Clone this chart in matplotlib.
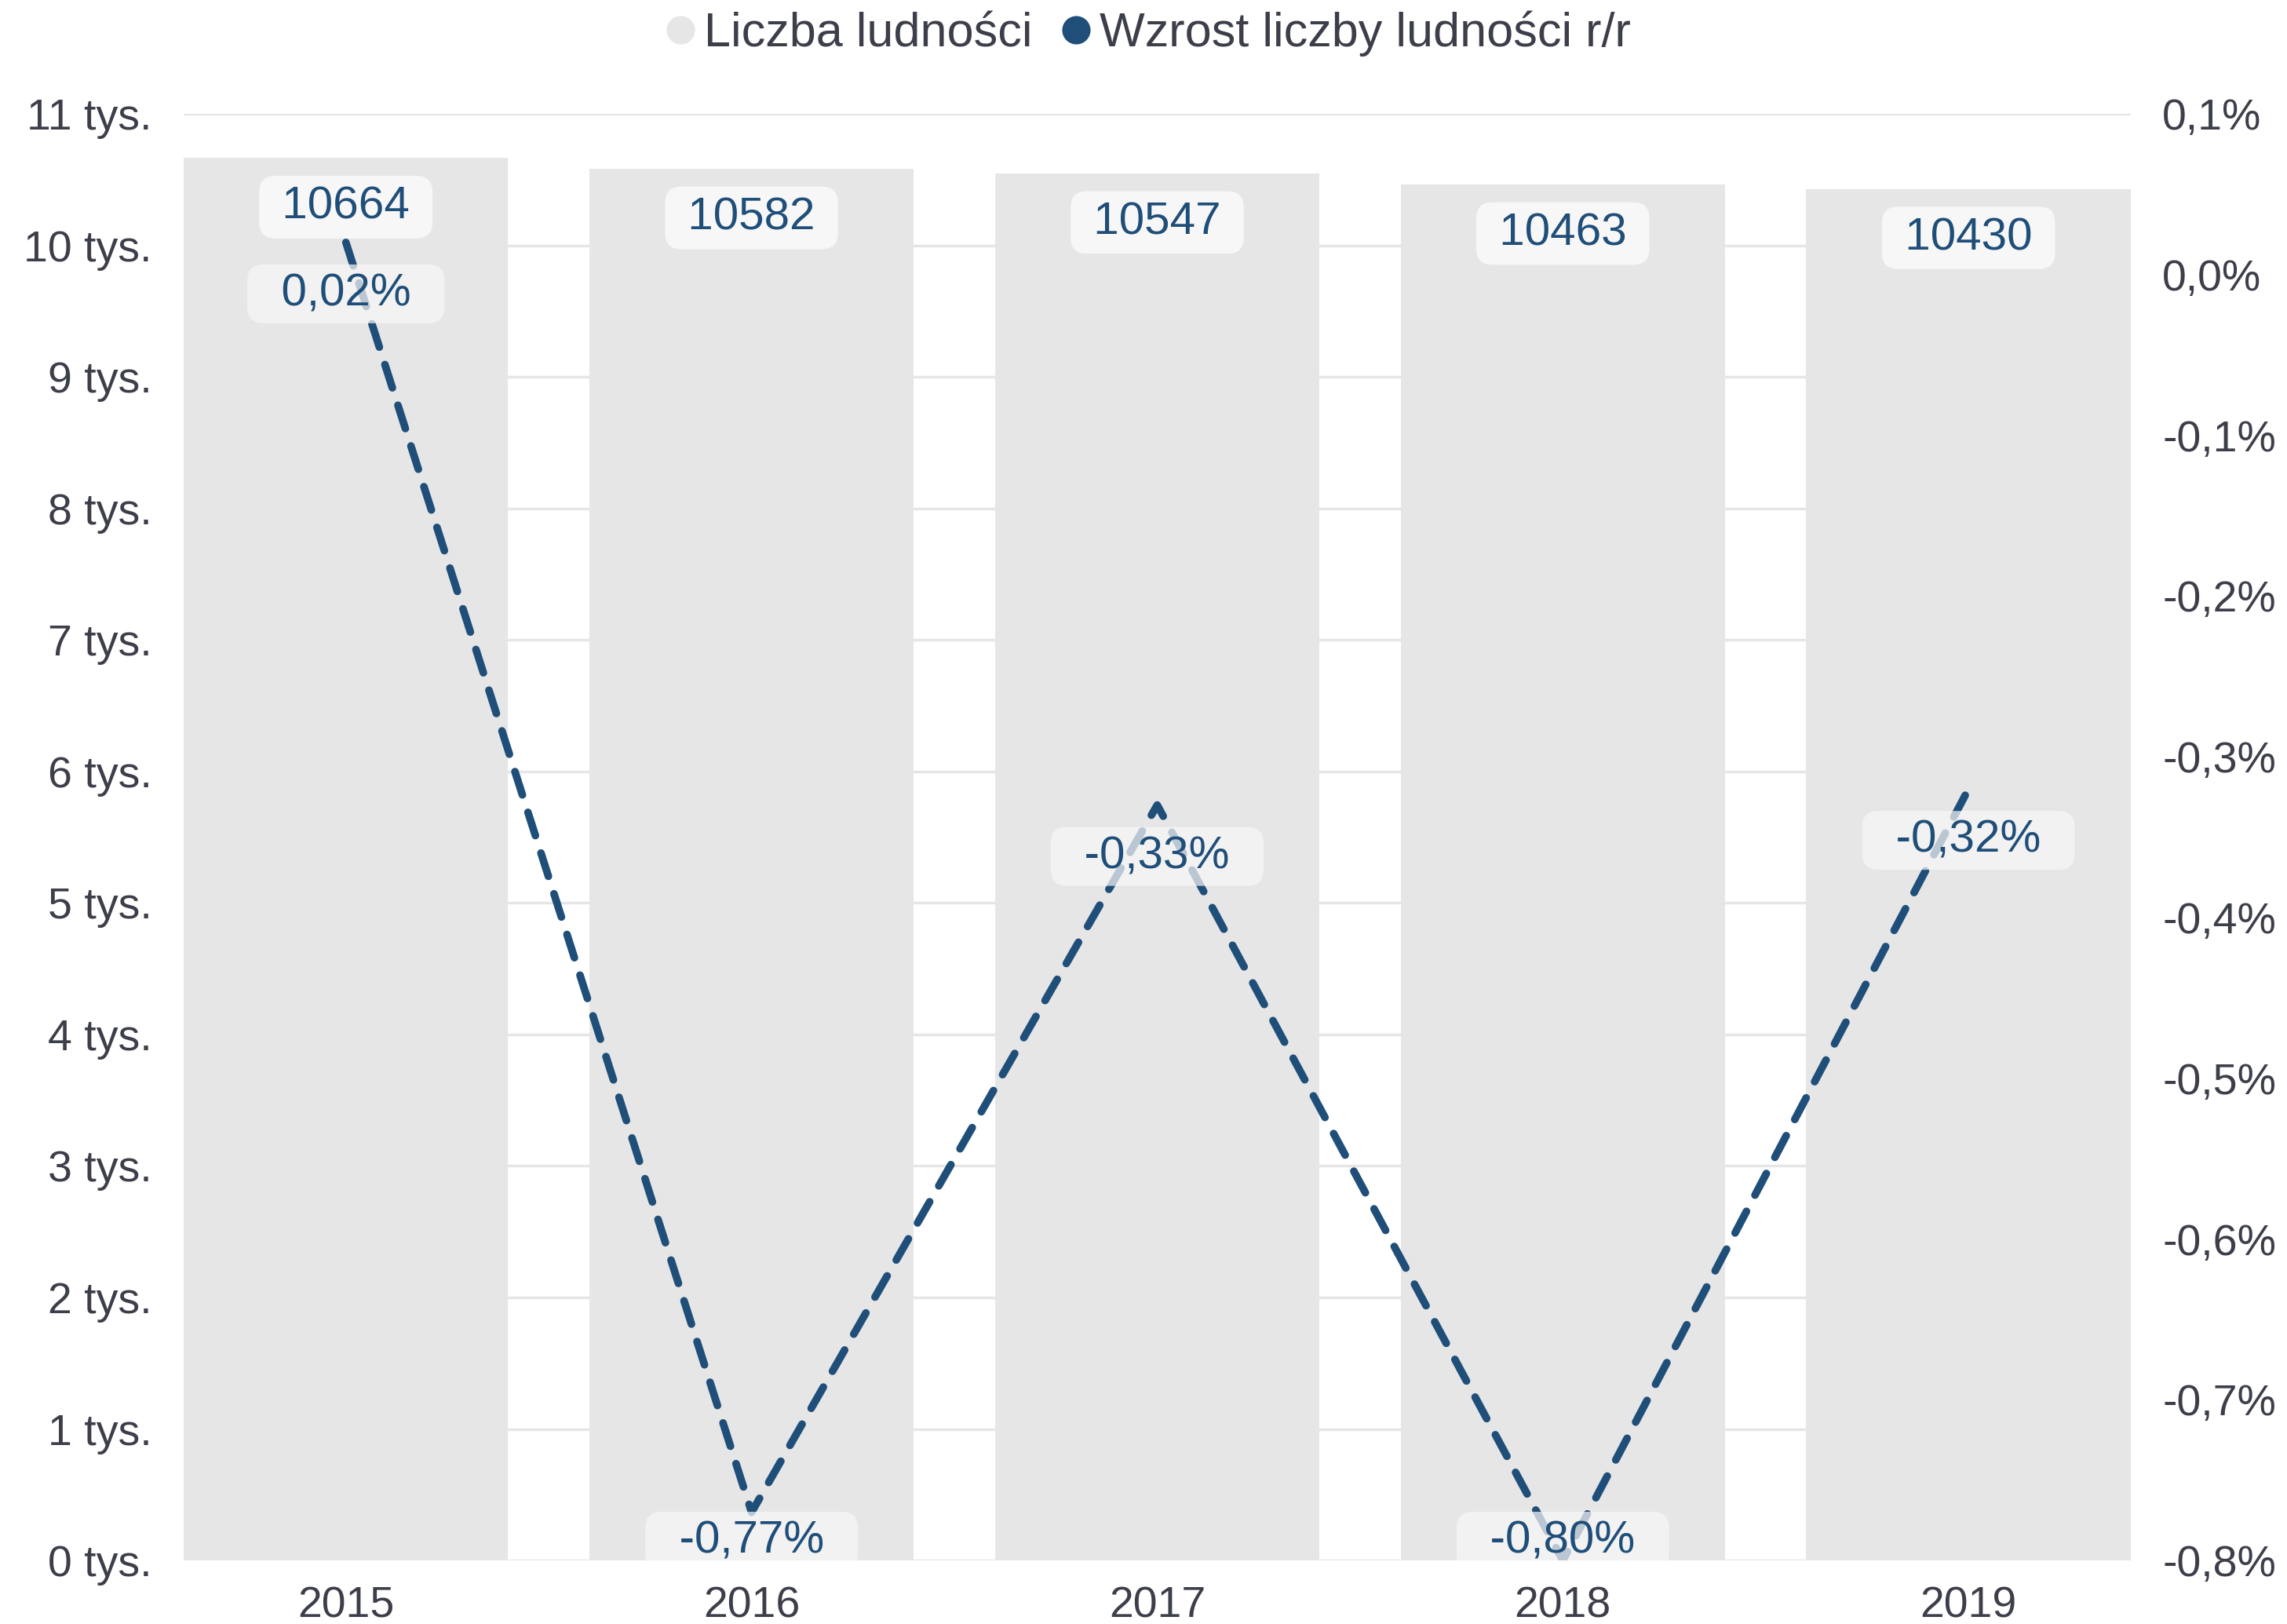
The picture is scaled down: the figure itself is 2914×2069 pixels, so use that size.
import matplotlib.pyplot as plt
from matplotlib.lines import Line2D

plt.rcParams['font.family'] = ['Liberation Sans', 'DejaVu Sans']

years = ['2015', '2016', '2017', '2018', '2019']
ludnosc = [10664, 10582, 10547, 10463, 10430]
wzrost = [0.02, -0.77, -0.33, -0.80, -0.32]

ytick_vals = list(range(0, 12000, 1000))
ytick_labels = [str(v // 1000) + ' tys.' for v in ytick_vals]
y2tick_vals = [-0.8, -0.7, -0.6, -0.5, -0.4, -0.3, -0.2, -0.1, 0.0, 0.1]
y2tick_labels = [('%.1f%%' % v).replace('.', ',') for v in y2tick_vals]

bar_col = '#e6e6e6'
line_col = '#1f4e79'
txt_col = '#3c3e4a'

fig = plt.figure(figsize=(29.14, 20.69), dpi=100)
ax = fig.add_axes([0.0803, 0.0391, 0.8514, 0.8908])
x = list(range(len(years)))

ax.set_axisbelow(True)
ax.grid(axis='y', color='#e6e6e6', linewidth=2.5)
ax.bar(x, ludnosc, width=0.8, color=bar_col, zorder=2)
ax.set_xlim(-0.4, 4.4)
ax.set_ylim(0, 11000)
ax.set_yticks(ytick_vals)
ax.set_yticklabels(ytick_labels)
ax.set_xticks(x)
ax.set_xticklabels(years)
ax.tick_params(axis='y', length=0, pad=29, labelsize=40, labelcolor=txt_col)
ax.tick_params(axis='x', length=0, pad=23, labelsize=40, labelcolor=txt_col)
for s in ax.spines.values():
    s.set_visible(False)

for i, v in enumerate(ludnosc):
    ax.annotate(' ' + str(v) + ' ', (i, v), xytext=(0, -45), textcoords='offset points',
                ha='center', va='center', fontsize=42, color=line_col, zorder=5,
                bbox=dict(boxstyle='round,pad=0.22,rounding_size=0.35',
                          fc='#f7f7f7', ec='none'))

ax2 = ax.twinx()
ax2.set_ylim(-0.8, 0.1)
ax2.set_yticks(y2tick_vals)
ax2.set_yticklabels(y2tick_labels)
ax2.tick_params(axis='y', length=0, pad=29, labelsize=40, labelcolor=txt_col)
for s in ax2.spines.values():
    s.set_visible(False)

ax2.plot(x, wzrost, color=line_col, linewidth=7, linestyle=(0, (3.2, 2.4)),
         dash_capstyle='round', solid_capstyle='round', zorder=3)

for i, v in enumerate(wzrost):
    ly = max(v - 0.032, -0.788)
    lab = '  ' + ('%.2f%%' % v).replace('.', ',') + '  '
    ax2.text(i, ly, lab, ha='center', va='center', fontsize=42, color=line_col,
             zorder=6, clip_on=True,
             bbox=dict(boxstyle='round,pad=0.18,rounding_size=0.35',
                       fc='#f7f7f7', ec='none', alpha=0.72))

handles = [Line2D([], [], marker='o', linestyle='none', markersize=26,
                  markerfacecolor=bar_col, markeredgecolor='none'),
           Line2D([], [], marker='o', linestyle='none', markersize=26,
                  markerfacecolor=line_col, markeredgecolor='none')]
fig.legend(handles, ['Liczba ludności', 'Wzrost liczby ludności r/r'],
           loc='upper center', bbox_to_anchor=(0.5, 1.02), ncol=2, frameon=False,
           fontsize=44, labelcolor=txt_col, handletextpad=0.0, columnspacing=0.4,
           handlelength=1.0)

fig.savefig('out.png', dpi=100)
